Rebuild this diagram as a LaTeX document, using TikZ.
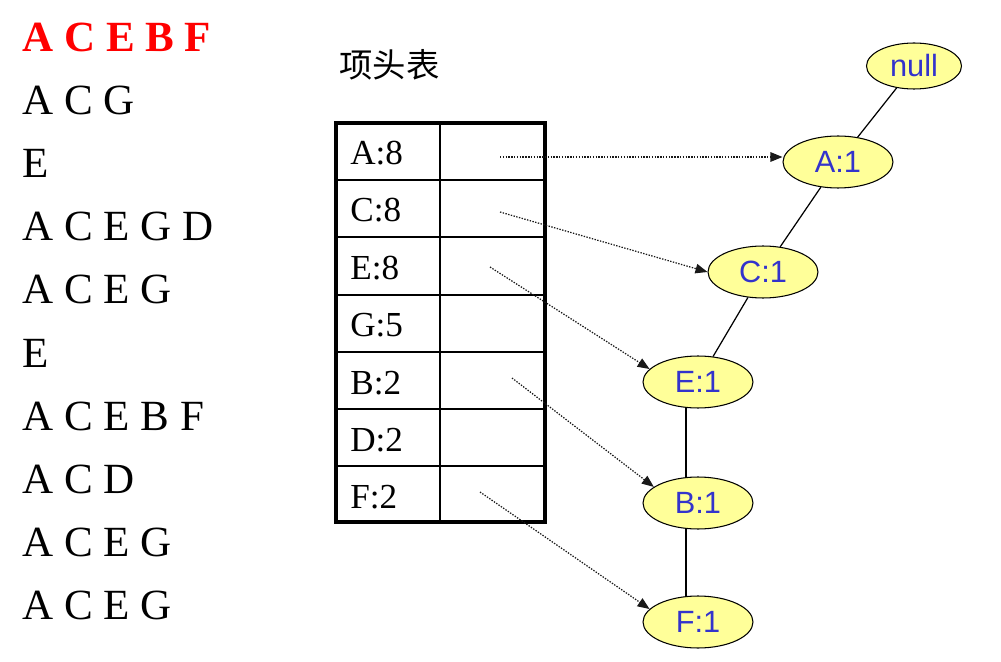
\documentclass[tikz,border=0pt]{standalone}
\usepackage{fontspec}
\setmainfont{Liberation Serif}
\setsansfont{Liberation Sans}
\newfontfamily\cjkfont{Noto Sans CJK SC}
\usetikzlibrary{arrows.meta, positioning, shapes.geometric}
\definecolor{treefill}{HTML}{FFFF99}
\definecolor{treetext}{HTML}{3333CC}
\definecolor{itemred}{HTML}{FF0000}

\begin{document}
\begin{tikzpicture}[
        x=0.02cm,
        y=-0.02cm,
        itemrow/.style={
            anchor=base west,
            inner sep=0pt,
            font=\fontsize{24.5}{24.5}\selectfont
        },
        cellentry/.style={
            anchor=base west,
            inner sep=0pt,
            font=\fontsize{20}{20}\selectfont
        },
        treenode/.style={
            ellipse,
            draw=black,
            line width=0.6pt,
            fill=treefill,
            text=treetext,
            inner sep=0pt,
            minimum width=2.2cm,
            minimum height=1.04cm,
            font=\sffamily\fontsize{17.5}{17.5}\selectfont
        },
        treeedge/.style={
            draw=black,
            line width=0.7pt
        },
        linkarrow/.style={
            draw=black!90,
            line width=0.7pt,
            dash pattern=on 0.8pt off 0.8pt,
            -{Triangle[length=0.24cm, width=0.19cm]}
        }
    ]

        \useasboundingbox (0,0) rectangle (1001,662);

        % Transaktionen
        \node[itemrow, text=itemred, font=\bfseries\fontsize{24.5}{24.5}\selectfont] (t1) at (22,52) {A C E B F};
        \node[itemrow] (t2) at (22,115) {A C G};
        \node[itemrow] (t3) at (22,178) {E};
        \node[itemrow] (t4) at (22,241) {A C E G D};
        \node[itemrow] (t5) at (22,304) {A C E G};
        \node[itemrow] (t6) at (22,367) {E};
        \node[itemrow] (t7) at (22,430) {A C E B F};
        \node[itemrow] (t8) at (22,493) {A C D};
        \node[itemrow] (t9) at (22,556) {A C E G};
        \node[itemrow] (t10) at (22,619) {A C E G};

        % Kopftabelle
        \node[anchor=west, inner sep=0pt, font=\cjkfont\fontsize{19}{19}\selectfont] (header) at (339,65) {项头表};

        \draw[line width=1.2pt]
            (336,180) -- (545,180)
            (336,237) -- (545,237)
            (336,295) -- (545,295)
            (336,352) -- (545,352)
            (336,409) -- (545,409)
            (336,466) -- (545,466)
            (440,123) -- (440,522);
        \draw[line width=1.8pt]
            (336,123) rectangle (545,522);

        \node[cellentry] (hA) at (350,165) {A:8};
        \node[cellentry] (hC) at (350,222) {C:8};
        \node[cellentry] (hE) at (350,280) {E:8};
        \node[cellentry] (hG) at (350,337) {G:5};
        \node[cellentry] (hB) at (350,394) {B:2};
        \node[cellentry] (hD) at (350,451) {D:2};
        \node[cellentry] (hF) at (350,508) {F:2};

        % Baum
        \node[treenode, minimum width=1.9cm, minimum height=0.92cm] (nnull) at (914,66) {null};
        \node[treenode] (nA) at (838,162) {A:1};
        \node[treenode] (nC) at (763,272) {C:1};
        \node[treenode] (nE) at (698,382) {E:1};
        \node[treenode] (nB) at (698,503) {B:1};
        \node[treenode] (nF) at (698,622) {F:1};

        \draw[treeedge] (nnull) -- (nA);
        \draw[treeedge] (nA) -- (nC);
        \draw[treeedge] (nC) -- (nE);
        \draw[treeedge] (nE.245) -- (nB.115);
        \draw[treeedge] (nB.245) -- (nF.115);

        % Knotenlinks
        \coordinate (lA) at (500,157);
        \coordinate (lC) at (500,212);
        \coordinate (lE) at (490,267);
        \coordinate (lB) at (512,378);
        \coordinate (lF) at (480,492);

        \draw[linkarrow] (lA) -- (nA.west |- lA);
        \draw[linkarrow] (lC) -- (nC.west);
        \draw[linkarrow] (lE) -- (nE.165);
        \draw[linkarrow] (lB) -- (nB.160);
        \draw[linkarrow] (lF) -- (nF.165);

    \end{tikzpicture}
\end{document}
